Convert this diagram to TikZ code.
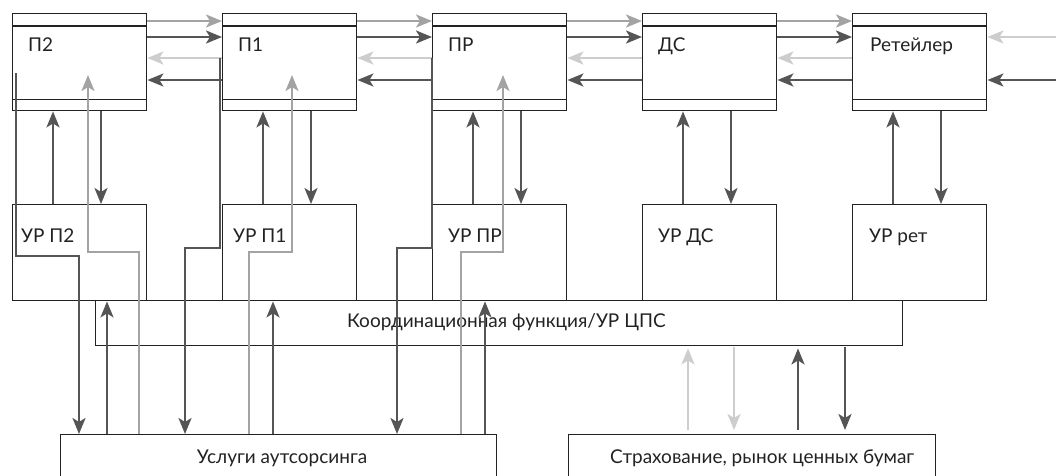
\documentclass[tikz,border=0pt]{standalone}
\usepackage{fontspec}
\setmainfont{Lato}
\usetikzlibrary{arrows.meta}
\definecolor{dk}{HTML}{555555}
\definecolor{md}{HTML}{A3A3A3}
\definecolor{lt}{HTML}{CDCDCD}
\definecolor{bd}{HTML}{222222}
\tikzset{
  box/.style={draw=bd, line width=1.4pt, inner sep=0pt, anchor=north west},
  topbox/.style={box, minimum width=134pt, minimum height=97pt},
  urbox/.style={box, minimum width=134pt, minimum height=96pt},
  band/.style={draw=bd, line width=1.4pt},
  lbl/.style={font=\fontsize{19}{22}\selectfont, inner sep=0pt, anchor=base west, text=bd},
  con/.style={line width=2.4pt, -{Stealth[length=16pt,width=13pt,inset=4pt]}},
  wire/.style={line width=2.4pt}
}
\begin{document}
\begin{tikzpicture}[x=1pt,y=-1pt]
\useasboundingbox (0,0) rectangle (1056,475);
\clip (0,0) rectangle (1056,475);
% top boxes
\node[topbox] (p2)  at (12,13) {};
\node[topbox] (p1)  at (222,13) {};
\node[topbox] (pr)  at (432,13) {};
\node[topbox] (ds)  at (642,13) {};
\node[topbox] (ret) at (852,13) {};
\foreach \b in {p2,p1,pr,ds,ret}{
  \draw[band] ([yshift=-13pt]\b.north west) -- ([yshift=-13pt]\b.north east);
  \draw[band] ([yshift=12pt]\b.south west) -- ([yshift=12pt]\b.south east);
}
% management boxes
\node[urbox] (ur2)   at (12,204) {};
\node[urbox] (ur1)   at (222,204) {};
\node[urbox] (urpr)  at (432,204) {};
\node[urbox] (urds)  at (642,204) {};
\node[urbox] (urret) at (852,204) {};
% coordination
\node[box, minimum width=807pt, minimum height=45pt] (coord) at (95,300) {};
% bottom boxes
\node[box, minimum width=436pt, minimum height=70pt] (out) at (60,434) {};
\node[box, minimum width=367pt, minimum height=70pt] (ins) at (568,434) {};
% labels
\node[lbl] (tp2)  at (28,51) {П2};
\node[lbl] (tp1)  at (238,51) {П1};
\node[lbl] (tpr)  at (448,51) {ПР};
\node[lbl] (tds)  at (658,51) {ДС};
\node[lbl] (tret) at (870,51) {Ретейлер};
\node[lbl] (tur2)   at (21,242) {УР П2};
\node[lbl] (tur1)   at (233,242) {УР П1};
\node[lbl] (turpr)  at (448,242) {УР ПР};
\node[lbl] (turds)  at (658,242) {УР ДС};
\node[lbl] (turret) at (869,242) {УР рет};
\node[lbl] (tcoord) at (347,327) {Координационная функция/УР ЦПС};
\node[lbl, anchor=base] (tout) at (282,463) {Услуги аутсорсинга};
\node[lbl] (tins) at (610,463) {Страхование, рынок ценных бумаг};
% horizontal flows between top boxes
\foreach \a/\b in {p2/p1,p1/pr,pr/ds,ds/ret}{
  \draw[con,md] ([yshift=-8pt]\a.north east) -- ([yshift=-8pt]\b.north west);
  \draw[con,dk] ([yshift=-24pt]\a.north east) -- ([yshift=-24pt]\b.north west);
  \draw[con,lt] ([yshift=-45pt]\b.north west) -- ([yshift=-45pt]\a.north east);
  \draw[con,dk] ([yshift=-67pt]\b.north west) -- ([yshift=-67pt]\a.north east);
}
\coordinate (rin1) at (1056,37);
\coordinate (rin2) at (1056,80);
\draw[con,lt] (rin1) -- ([yshift=-24pt]ret.north east);
\draw[con,dk] (rin2) -- ([yshift=-67pt]ret.north east);
% vertical flows top <-> management
\foreach \b/\u in {p2/ur2,p1/ur1,pr/urpr,ds/urds,ret/urret}{
  \draw[con,dk] ([xshift=41pt]\u.north west) -- ([xshift=41pt]\b.south west);
  \draw[con,dk] ([xshift=89pt]\b.south west) -- ([xshift=89pt]\u.north west);
}
% outsourcing links
\draw[con,dk] ([xshift=4pt,yshift=-60pt]p2.north west) -- ++(0,183) -- ++(63,0) -- ([xshift=19pt]out.north west);
\draw[con,md] ([xshift=79pt]out.north west) -- ++(0,-182) -- ++(-51,0) -- ([xshift=76pt,yshift=-62pt]p2.north west);
\draw[con,dk] ([xshift=47pt]out.north west) -- ([xshift=95pt]ur2.south west);
\draw[con,dk] ([xshift=-2pt,yshift=-45pt]p1.north west) -- ++(0,190) -- ++(-35,0) -- ([xshift=125pt]out.north west);
\draw[con,md] ([xshift=189pt]out.north west) -- ++(0,-182) -- ++(43,0) -- ([xshift=70pt,yshift=-62pt]p1.north west);
\draw[con,dk] ([xshift=213pt]out.north west) -- ([xshift=51pt]ur1.south west);
\draw[con,dk] ([yshift=-45pt]pr.north west) -- ++(0,190) -- ++(-35,0) -- ([xshift=337pt]out.north west);
\draw[con,md] ([xshift=401pt]out.north west) -- ++(0,-182) -- ++(42,0) -- ([xshift=71pt,yshift=-62pt]pr.north west);
\draw[con,dk] ([xshift=425pt]out.north west) -- ([xshift=53pt]urpr.south west);
% insurance links
\draw[con,lt] ([xshift=120pt,yshift=4pt]ins.north west) -- ([xshift=593pt,yshift=-2pt]coord.south west);
\draw[con,lt] ([xshift=639pt,yshift=-1pt]coord.south west) -- ([xshift=166pt,yshift=4pt]ins.north west);
\draw[con,dk] ([xshift=230pt,yshift=4pt]ins.north west) -- ([xshift=703pt,yshift=-2pt]coord.south west);
\draw[con,dk] ([xshift=750pt,yshift=-1pt]coord.south west) -- ([xshift=277pt,yshift=4pt]ins.north west);
\end{tikzpicture}
\end{document}
